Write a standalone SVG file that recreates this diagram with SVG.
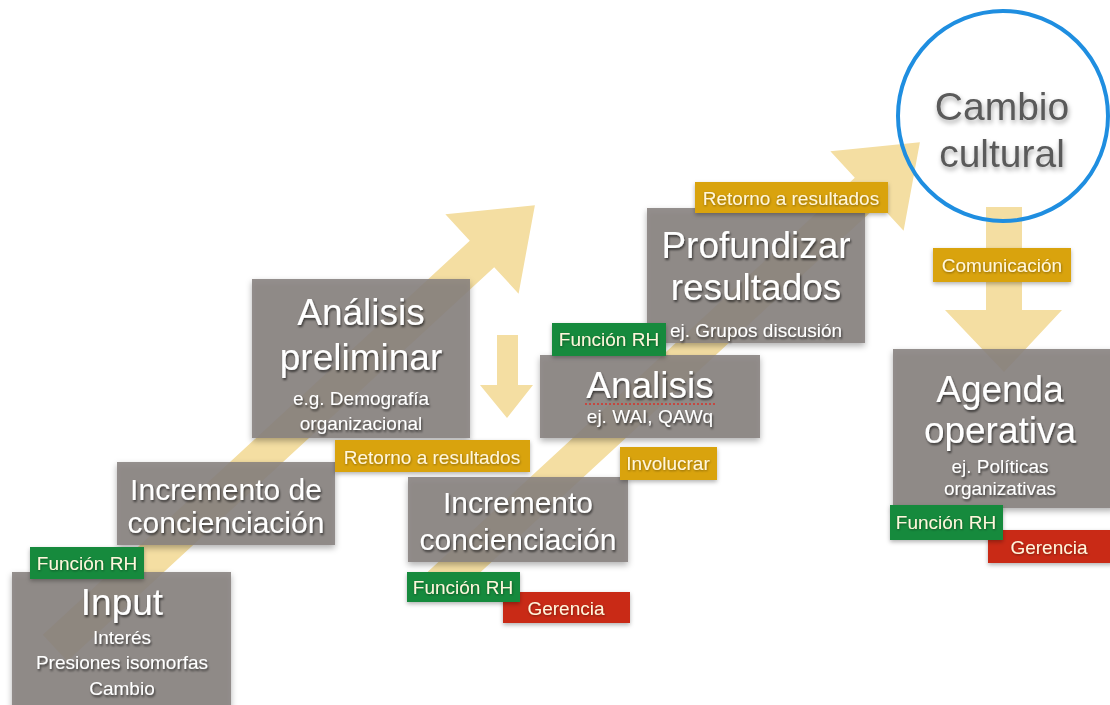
<svg xmlns="http://www.w3.org/2000/svg" width="1110" height="705" viewBox="0 0 1110 705">
<style>
text{font-family:"Liberation Sans",Arial,Helvetica,sans-serif;text-anchor:middle}
.box{fill:#86817e;fill-opacity:0.88;filter:url(#bs)}
.t{fill:#ffffff;filter:url(#ts)}
.big{font-size:37px}
.mid{font-size:30px}
.sub{font-size:19px}
.tag{font-size:19px;fill:#fff6dc;filter:url(#ts2)}
.green{fill:#168a3c;filter:url(#bs2)}
.orange{fill:#d9a30c;filter:url(#bs2)}
.red{fill:#c92a12;filter:url(#bs2)}
.arrow{fill:#f4dea2}
</style>
<defs>
<filter id="bs" x="-20%" y="-20%" width="140%" height="150%"><feDropShadow dx="0" dy="3" stdDeviation="3" flood-color="#000" flood-opacity="0.35"/></filter>
<filter id="bs2" x="-20%" y="-30%" width="140%" height="170%"><feDropShadow dx="0" dy="2" stdDeviation="2" flood-color="#000" flood-opacity="0.3"/></filter>
<filter id="ts" x="-10%" y="-30%" width="120%" height="160%"><feDropShadow dx="1" dy="2" stdDeviation="1.2" flood-color="#000" flood-opacity="0.6"/></filter>
<filter id="ts2" x="-10%" y="-30%" width="120%" height="160%"><feDropShadow dx="0.5" dy="1" stdDeviation="0.8" flood-color="#000" flood-opacity="0.4"/></filter>
<filter id="ts3" x="-10%" y="-30%" width="120%" height="160%"><feDropShadow dx="1" dy="3" stdDeviation="2.5" flood-color="#000" flood-opacity="0.35"/></filter>
<polygon id="bigArrow" points="0,-18 581,-18 581,-54 653,0 581,54 581,18 0,18"/>
</defs>
<rect width="1110" height="705" fill="#ffffff"/>
<g id="connectors">
<use href="#bigArrow" class="arrow" transform="translate(55,648) rotate(-42.7)"/>
<use href="#bigArrow" class="arrow" transform="translate(440,585) rotate(-42.7)"/>
<polygon class="arrow" points="497,335 518,335 518,385 533,385 507,418 480,385 497,385"/>
<polygon class="arrow" points="986,207 1022,207 1022,310 1062,310 1004,372 945,310 986,310"/>
</g>
<g id="node-input">
<rect class="box" x="12" y="572" width="219" height="140"/>
<text class="t big" x="122" y="615">Input</text>
<text class="t sub" x="122" y="644">Interés</text>
<text class="t sub" x="122" y="669">Presiones isomorfas</text>
<text class="t sub" x="122" y="695">Cambio</text>
</g>
<g id="node-incremento1">
<rect class="box" x="117" y="462" width="218" height="83"/>
<text class="t mid" x="226" y="500">Incremento de</text>
<text class="t mid" x="226" y="533">concienciación</text>
</g>
<g id="node-analisis-preliminar">
<rect class="box" x="252" y="279" width="218" height="159"/>
<text class="t big" x="361" y="325">Análisis</text>
<text class="t big" x="361" y="370">preliminar</text>
<text class="t sub" x="361" y="405">e.g. Demografía</text>
<text class="t sub" x="361" y="430">organizacional</text>
</g>
<g id="node-incremento2">
<rect class="box" x="408" y="477" width="220" height="85"/>
<text class="t mid" x="518" y="513">Incremento</text>
<text class="t mid" x="518" y="550">concienciación</text>
</g>
<g id="node-analisis">
<rect class="box" x="540" y="355" width="220" height="83"/>
<text class="t big" x="650" y="398">Analisis</text>
<path d="M585,404 L715,404" stroke="#d8322a" stroke-width="1.5" stroke-dasharray="2,2" fill="none"/>
<text class="t sub" x="650" y="423">ej. WAI, QAWq</text>
</g>
<g id="node-profundizar">
<rect class="box" x="647" y="208" width="218" height="135"/>
<text class="t big" x="756" y="258">Profundizar</text>
<text class="t big" x="756" y="300">resultados</text>
<text class="t sub" x="756" y="337">ej. Grupos discusión</text>
</g>
<g id="node-cambio-cultural">
<circle cx="1003" cy="116" r="105" fill="none" stroke="#1f8ee0" stroke-width="4"/>
<text x="1002" y="120" font-size="39" fill="#5a5a5a" filter="url(#ts3)">Cambio</text>
<text x="1002" y="167" font-size="39" fill="#5a5a5a" filter="url(#ts3)">cultural</text>
</g>
<g id="node-agenda">
<rect class="box" x="893" y="349" width="222" height="159"/>
<text class="t" font-size="37" x="1000" y="402">Agenda</text>
<text class="t" font-size="37" x="1000" y="443">operativa</text>
<text class="t sub" x="1000" y="473">ej. Políticas</text>
<text class="t sub" x="1000" y="495">organizativas</text>
</g>
<g id="tag-rh-input">
<rect class="green" x="30" y="547" width="114" height="32"/>
<text class="tag" x="87" y="570">Función RH</text>
</g>
<g id="tag-retorno1">
<rect class="orange" x="335" y="440" width="195" height="32"/>
<text class="tag" x="432" y="464">Retorno a resultados</text>
</g>
<g id="tag-rh-analisis">
<rect class="green" x="552" y="323" width="114" height="33"/>
<text class="tag" x="609" y="346">Función RH</text>
</g>
<g id="tag-involucrar">
<rect class="orange" x="620" y="447" width="97" height="33"/>
<text class="tag" x="668" y="470">Involucrar</text>
</g>
<g id="tag-gerencia-incremento">
<rect class="red" x="503" y="592" width="127" height="31"/>
<text class="tag" x="566" y="615">Gerencia</text>
</g>
<g id="tag-rh-incremento">
<rect class="green" x="407" y="572" width="113" height="30"/>
<text class="tag" x="463" y="594">Función RH</text>
</g>
<g id="tag-retorno2">
<rect class="orange" x="695" y="182" width="193" height="31"/>
<text class="tag" x="791" y="205">Retorno a resultados</text>
</g>
<g id="tag-comunicacion">
<rect class="orange" x="933" y="248" width="138" height="34"/>
<text class="tag" x="1002" y="272">Comunicación</text>
</g>
<g id="tag-gerencia-agenda">
<rect class="red" x="988" y="530" width="125" height="33"/>
<text class="tag" x="1049" y="554">Gerencia</text>
</g>
<g id="tag-rh-agenda">
<rect class="green" x="890" y="505" width="113" height="35"/>
<text class="tag" x="946" y="529">Función RH</text>
</g>
</svg>
